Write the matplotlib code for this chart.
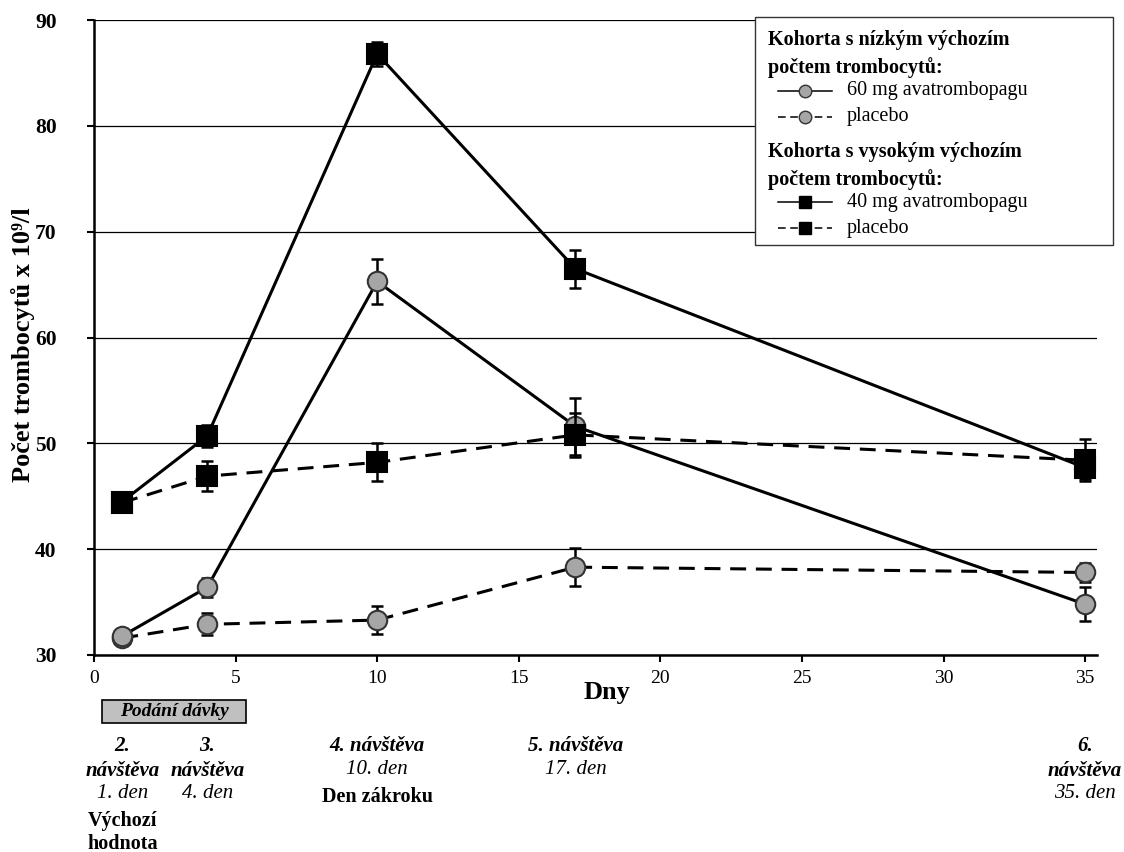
#import packages
import numpy as np
from matplotlib import pyplot as plt
from matplotlib import transforms
from matplotlib.lines import Line2D
from matplotlib.patches import Rectangle

plt.rcParams['font.family'] = ['Liberation Serif', 'DejaVu Serif']

#data
days = [1, 4, 10, 17, 35]
low_avatro = [31.8, 36.4, 65.3, 51.6, 34.8]
low_avatro_err = [0, 0.9, 2.1, 2.7, 1.6]
low_placebo = [31.6, 32.9, 33.3, 38.3, 37.8]
low_placebo_err = [0, 1.05, 1.3, 1.8, 0.9]
high_avatro = [44.5, 50.7, 86.8, 66.5, 47.7]
high_avatro_err = [0, 1.0, 1.1, 1.8, 1.1]
high_placebo = [44.4, 46.9, 48.2, 50.8, 48.4]
high_placebo_err = [0, 1.4, 1.8, 2.1, 2.0]

x_ticks = [0, 5, 10, 15, 20, 25, 30, 35]
y_ticks = [30, 40, 50, 60, 70, 80, 90]

legend_labels = ["60 mg avatrombopagu", "placebo", "40 mg avatrombopagu", "placebo"]
legend_titles = ["Kohorta s nízkým výchozím\npočtem trombocytů:",
                 "Kohorta s vysokým výchozím\npočtem trombocytů:"]

# visits under the axis: (day, bold italic title, italic day text, bold note)
visit_days = [1, 4, 10, 17, 35]
visit_titles = ["2.\nnávštěva", "3.\nnávštěva", "4. návštěva", "5. návštěva", "6.\nnávštěva"]
visit_dates = ["1. den", "4. den", "10. den", "17. den", "35. den"]
visit_notes = ["Výchozí\nhodnota", "", "Den zákroku", "", ""]

W, H = 1124, 852
fig = plt.figure(figsize=(W / 100, H / 100), dpi=100)
ax = fig.add_axes([94 / W, 1 - 655 / H, (1097 - 94) / W, (655 - 20) / H])


def fx(px):
    return px / W


def fy(py):
    return 1 - py / H


gray = '#a6a6a6'
dash = (5.2, 3.2)
lw = 2.2

series = [
    (low_placebo, low_placebo_err, 'o', gray, '--'),
    (low_avatro, low_avatro_err, 'o', gray, '-'),
    (high_placebo, high_placebo_err, 's', 'black', '--'),
    (high_avatro, high_avatro_err, 's', 'black', '-'),
]
z = 3
for vals, err, mk, fc, ls in series:
    ax.errorbar(days, vals, yerr=err, fmt='none', ecolor='black', elinewidth=1.8,
                capsize=4.5, capthick=1.8, zorder=z)
    line, = ax.plot(days, vals, color='black', linewidth=lw, linestyle=ls,
                    marker=mk, markersize=14 if mk == 'o' else 15,
                    markerfacecolor=fc, markeredgecolor='#333333' if mk == 'o' else 'black',
                    markeredgewidth=1.5, zorder=z + 0.5)
    if ls == '--':
        line.set_dashes(dash)
    z += 1

ax.set_xlim(0, 35.42)
ax.set_ylim(30, 90)
ax.set_xticks(x_ticks)
ax.set_yticks(y_ticks)
ax.grid(axis='y', color='black', linewidth=0.9)
ax.set_axisbelow(True)
for s in ['top', 'right']:
    ax.spines[s].set_visible(False)
for s in ['left', 'bottom']:
    ax.spines[s].set_linewidth(1.8)
ax.tick_params(axis='y', direction='out', length=5, width=1.5, pad=22, labelsize=15.5)
ax.tick_params(axis='x', direction='out', length=5, width=1.5, pad=6, labelsize=14)
for t in ax.get_yticklabels():
    t.set_fontweight('bold')

fig.text(fx(607), fy(692), "Dny", fontsize=19, fontweight='bold', ha='center', va='center')
fig.text(fx(23), fy(345), "Počet trombocytů x 10⁹/l", fontsize=19, fontweight='bold',
         rotation=90, ha='center', va='center')

# legend box, drawn by hand
fig.add_artist(Rectangle((fx(755), fy(245)), fx(1113 - 755), (245 - 17) / H,
                         transform=fig.transFigure, facecolor='white',
                         edgecolor='#333333', linewidth=1.0, zorder=10))
title_y = [54, 166]
entry_y = [91, 117, 202, 228]
for t, yy in zip(legend_titles, title_y):
    fig.text(fx(768), fy(yy), t, fontsize=14.5, fontweight='bold', ha='left', va='center',
             linespacing=1.5, zorder=11)
for i, (lab, yy) in enumerate(zip(legend_labels, entry_y)):
    mk = 'o' if i < 2 else 's'
    fc = gray if i < 2 else 'black'
    ln = Line2D([fx(778), fx(805), fx(832)], [fy(yy)] * 3, transform=fig.transFigure,
                color='black', linewidth=1.1, marker=mk, markevery=[1],
                markersize=9, markerfacecolor=fc,
                markeredgecolor='#333333' if i < 2 else 'black', zorder=11)
    if i % 2 == 1:
        ln.set_dashes((5, 3))
    fig.add_artist(ln)
    fig.text(fx(847), fy(yy), lab, fontsize=14.5, ha='left', va='center', zorder=11)

# annotations under the axis, placed by day
trans = transforms.blended_transform_factory(ax.transData, fig.transFigure)
fig.add_artist(Rectangle((0.28, fy(723)), 5.09, 23 / H, transform=trans,
                         facecolor='#c0c0c0', edgecolor='black', linewidth=1.2))
fig.text(2.83, fy(711), "Podání dávky", transform=trans, fontsize=14,
         fontweight='bold', style='italic', ha='center', va='center')

for d, title, date, note in zip(visit_days, visit_titles, visit_dates, visit_notes):
    two = '\n' in title
    fig.text(d, fy(736), title, transform=trans, fontsize=15, fontweight='bold',
             style='italic', ha='center', va='top', linespacing=1.34)
    date_y = 793 if two else 769
    fig.text(d, fy(date_y), date, transform=trans, fontsize=15, style='italic',
             ha='center', va='center')
    if note:
        fig.text(d, fy(date_y + 18), note, transform=trans, fontsize=14.5,
                 fontweight='bold', ha='center', va='top', linespacing=1.2)

plt.savefig("out.png", dpi=100)
